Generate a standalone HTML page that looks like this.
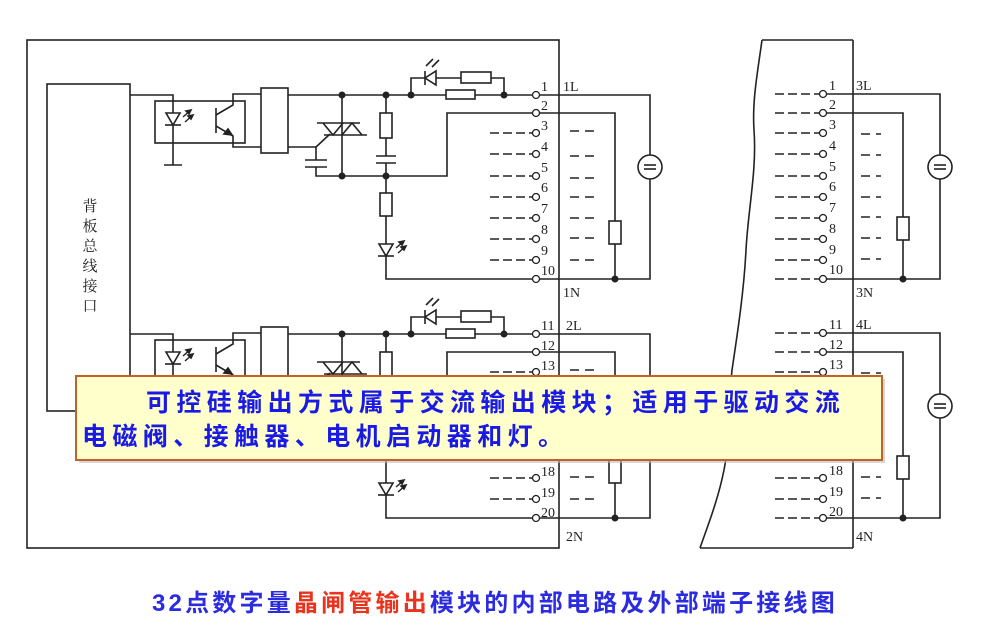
<!DOCTYPE html>
<html><head><meta charset="utf-8"><style>
html,body{margin:0;padding:0;background:#fff;}
svg{display:block;}
</style></head><body>
<svg width="1006" height="640" viewBox="0 0 1006 640" xmlns="http://www.w3.org/2000/svg">
<defs>
<g id="led">
  <polygon points="-7,-6 7,-6 0,6" fill="#fff" stroke="#222" stroke-width="1.6"/>
  <line x1="-8" y1="6" x2="8" y2="6" stroke="#222" stroke-width="1.6"/>
  <line x1="10" y1="-2" x2="18" y2="-9" stroke="#222" stroke-width="1.4"/>
  <polygon points="18,-9 13,-8 16,-5" fill="#222"/>
  <line x1="12" y1="3" x2="20" y2="-4" stroke="#222" stroke-width="1.4"/>
  <polygon points="20,-4 15,-3 18,0" fill="#222"/>
</g>
<g id="mod" fill="none" stroke="#222" stroke-width="1.6">
  <polyline points="130,95 173,95 173,165"/>
  <line x1="164" y1="165" x2="182" y2="165"/>
  <rect x="155" y="101" width="90" height="42"/>
  <use href="#led" x="173" y="119"/>
  <line x1="216" y1="108" x2="216" y2="133"/>
  <polyline points="216,115 233,105 233,94 261,94"/>
  <polyline points="216,126 233,136 233,147 261,147"/>
  <polygon points="232,135 224,134 228,129" fill="#222"/>
  <rect x="261" y="88" width="27" height="65"/>
  <line x1="288" y1="95" x2="532" y2="95"/>
  <line x1="288" y1="147" x2="316" y2="147"/>
  <line x1="316" y1="147" x2="330" y2="134"/>
  <line x1="316" y1="147" x2="316" y2="160"/>
  <line x1="305" y1="160" x2="327" y2="160"/>
  <line x1="305" y1="167" x2="327" y2="167"/>
  <polyline points="316,167 316,176 447,176 447,113 532,113"/>
  <line x1="342" y1="95" x2="342" y2="176"/>
  <line x1="317" y1="123" x2="360" y2="123"/>
  <line x1="324" y1="135" x2="367" y2="135"/>
  <polyline points="323,123 333,135 343,123"/>
  <polyline points="342,135 352,123 362,135"/>
  <line x1="386" y1="95" x2="386" y2="113"/>
  <rect x="380" y="113" width="12" height="25"/>
  <line x1="386" y1="138" x2="386" y2="156"/>
  <line x1="376" y1="156" x2="396" y2="156"/>
  <line x1="376" y1="163" x2="396" y2="163"/>
  <line x1="386" y1="163" x2="386" y2="193"/>
  <rect x="380" y="193" width="12" height="23"/>
  <line x1="386" y1="216" x2="386" y2="244"/>
  <use href="#led" x="386" y="250"/>
  <polyline points="386,256 386,279 532,279"/>
  <rect x="446" y="90" width="29" height="9" fill="#fff"/>
  <polyline points="411,95 411,78 425,78"/>
  <polyline points="436,78 461,78"/>
  <rect x="461" y="72" width="30" height="11"/>
  <polyline points="491,78 504,78 504,95"/>
  <polygon points="436,71 436,85 425,78" fill="#fff"/>
  <line x1="425" y1="71" x2="425" y2="85"/>
  <line x1="426" y1="66" x2="433" y2="59"/>
  <line x1="432" y1="67" x2="439" y2="60"/>
  <g stroke-dasharray="9,4" stroke-width="1.6">
    <line x1="490" y1="133" x2="532" y2="133"/>
    <line x1="490" y1="154" x2="532" y2="154"/>
    <line x1="490" y1="176" x2="532" y2="176"/>
    <line x1="490" y1="197" x2="532" y2="197"/>
    <line x1="490" y1="218" x2="532" y2="218"/>
    <line x1="490" y1="239" x2="532" y2="239"/>
    <line x1="490" y1="260" x2="532" y2="260"/>
  </g>
  <g stroke-dasharray="9,6" stroke-width="1.6">
    <line x1="570" y1="131" x2="597" y2="131"/>
    <line x1="570" y1="156" x2="597" y2="156"/>
    <line x1="570" y1="178" x2="597" y2="178"/>
    <line x1="570" y1="197" x2="597" y2="197"/>
    <line x1="570" y1="218" x2="597" y2="218"/>
    <line x1="570" y1="238" x2="597" y2="238"/>
    <line x1="570" y1="260" x2="597" y2="260"/>
  </g>
  <g fill="#fff" stroke-width="1.3">
    <circle cx="536" cy="95" r="3.5"/><circle cx="536" cy="113" r="3.5"/>
    <circle cx="536" cy="133" r="3.5"/><circle cx="536" cy="154" r="3.5"/>
    <circle cx="536" cy="176" r="3.5"/><circle cx="536" cy="197" r="3.5"/>
    <circle cx="536" cy="218" r="3.5"/><circle cx="536" cy="239" r="3.5"/>
    <circle cx="536" cy="260" r="3.5"/><circle cx="536" cy="279" r="3.5"/>
  </g>
  <polyline points="540,95 650,95 650,155"/>
  <polyline points="650,179 650,279 540,279"/>
  <circle cx="650" cy="167" r="12"/>
  <line x1="644" y1="165" x2="656" y2="165"/>
  <line x1="644" y1="169" x2="656" y2="169"/>
  <polyline points="540,113 615,113 615,221"/>
  <rect x="609" y="221" width="12" height="23"/>
  <line x1="615" y1="244" x2="615" y2="279"/>
  <g fill="#222" stroke="none">
    <circle cx="342" cy="95" r="3.5"/><circle cx="386" cy="95" r="3.5"/>
    <circle cx="411" cy="95" r="3.5"/><circle cx="504" cy="95" r="3.5"/>
    <circle cx="342" cy="176" r="3.5"/><circle cx="386" cy="176" r="3.5"/>
    <circle cx="615" cy="279" r="3.5"/>
  </g>
</g>
<g id="rmod" fill="none" stroke="#222" stroke-width="1.6">
  <g stroke-dasharray="9,4">
    <line x1="775" y1="94" x2="819" y2="94"/>
    <line x1="775" y1="113" x2="819" y2="113"/>
    <line x1="775" y1="133" x2="819" y2="133"/>
    <line x1="775" y1="154" x2="819" y2="154"/>
    <line x1="775" y1="176" x2="819" y2="176"/>
    <line x1="775" y1="197" x2="819" y2="197"/>
    <line x1="775" y1="218" x2="819" y2="218"/>
    <line x1="775" y1="239" x2="819" y2="239"/>
    <line x1="775" y1="260" x2="819" y2="260"/>
    <line x1="775" y1="279" x2="819" y2="279"/>
  </g>
  <g stroke-dasharray="9,6">
    <line x1="861" y1="134" x2="881" y2="134"/>
    <line x1="861" y1="155" x2="881" y2="155"/>
    <line x1="861" y1="176" x2="881" y2="176"/>
    <line x1="861" y1="197" x2="881" y2="197"/>
    <line x1="861" y1="217" x2="881" y2="217"/>
    <line x1="861" y1="238" x2="881" y2="238"/>
    <line x1="861" y1="259" x2="881" y2="259"/>
  </g>
  <g fill="#fff" stroke-width="1.3">
    <circle cx="823" cy="94" r="3.5"/><circle cx="823" cy="113" r="3.5"/>
    <circle cx="823" cy="133" r="3.5"/><circle cx="823" cy="154" r="3.5"/>
    <circle cx="823" cy="176" r="3.5"/><circle cx="823" cy="197" r="3.5"/>
    <circle cx="823" cy="218" r="3.5"/><circle cx="823" cy="239" r="3.5"/>
    <circle cx="823" cy="260" r="3.5"/><circle cx="823" cy="279" r="3.5"/>
  </g>
  <polyline points="827,94 940,94 940,155"/>
  <polyline points="940,179 940,279 827,279"/>
  <circle cx="940" cy="167" r="12"/>
  <line x1="934" y1="165" x2="946" y2="165"/>
  <line x1="934" y1="169" x2="946" y2="169"/>
  <polyline points="827,113 903,113 903,217"/>
  <rect x="897" y="217" width="12" height="23"/>
  <line x1="903" y1="240" x2="903" y2="279"/>
  <circle cx="903" cy="279" r="3.5" fill="#222" stroke="none"/>
</g>
</defs>

<rect x="27" y="40" width="532" height="508" fill="none" stroke="#222" stroke-width="1.6"/>
<rect x="47" y="84" width="83" height="327" fill="none" stroke="#222" stroke-width="1.6"/>
<g font-family="'Liberation Serif','Noto Serif CJK SC',serif" font-size="15" fill="#222" text-anchor="middle">
  <text x="90" y="211">背</text><text x="90" y="231">板</text><text x="90" y="251">总</text>
  <text x="90" y="271">线</text><text x="90" y="291">接</text><text x="90" y="311">口</text>
</g>

<use href="#mod"/>
<use href="#mod" y="239"/>

<path d="M762,40 C758,70 752,100 754,130 C757,170 748,210 746,250 C744,290 738,330 732,370 C728,410 730,440 724,470 C718,500 708,525 700,548" fill="none" stroke="#222" stroke-width="1.6"/>
<line x1="762" y1="40" x2="853" y2="40" stroke="#222" stroke-width="1.6"/>
<line x1="700" y1="548" x2="853" y2="548" stroke="#222" stroke-width="1.6"/>
<line x1="853" y1="40" x2="853" y2="548" stroke="#222" stroke-width="1.6"/>
<use href="#rmod"/>
<use href="#rmod" y="239"/>

<g font-family="'Liberation Serif',serif" font-size="14" fill="#222">
  <text x="541" y="91">1</text><text x="541" y="110">2</text><text x="541" y="130">3</text>
  <text x="541" y="151">4</text><text x="541" y="172">5</text><text x="541" y="192">6</text>
  <text x="541" y="213">7</text><text x="541" y="234">8</text><text x="541" y="255">9</text>
  <text x="541" y="275">10</text>
  <text x="563" y="91">1L</text><text x="563" y="297">1N</text>
  <text x="541" y="330">11</text><text x="541" y="350">12</text><text x="541" y="370">13</text>
  <text x="541" y="476">18</text><text x="541" y="497">19</text><text x="541" y="517">20</text>
  <text x="566" y="330">2L</text><text x="566" y="541">2N</text>

  <text x="829" y="90">1</text><text x="829" y="109">2</text><text x="829" y="129">3</text>
  <text x="829" y="150">4</text><text x="829" y="171">5</text><text x="829" y="191">6</text>
  <text x="829" y="212">7</text><text x="829" y="233">8</text><text x="829" y="254">9</text>
  <text x="829" y="274">10</text>
  <text x="856" y="90">3L</text><text x="856" y="297">3N</text>
  <text x="829" y="329">11</text><text x="829" y="349">12</text><text x="829" y="369">13</text>
  <text x="829" y="475">18</text><text x="829" y="496">19</text><text x="829" y="516">20</text>
  <text x="856" y="329">4L</text><text x="856" y="541">4N</text>
</g>

<rect x="79" y="379" width="806" height="84" fill="#bbbbbb" opacity="0.6"/>
<rect x="76" y="376" width="806" height="84" fill="#ffffcc" stroke="#c0602a" stroke-width="2"/>
<g font-family="'Liberation Sans','Noto Sans CJK SC',sans-serif" font-size="25" font-weight="bold" fill="#1a1ae6" letter-spacing="5.4">
  <text x="146" y="411">可控硅输出方式属于交流输出模块；适用于驱动交流</text>
  <text x="82" y="445">电磁阀、接触器、电机启动器和灯。</text>
</g>

<text x="152" y="611" font-family="'Liberation Sans','Noto Sans CJK SC',sans-serif" font-size="24" font-weight="bold" letter-spacing="3.2" fill="#2b2be0">32点数字量<tspan fill="#e8341c">晶闸管输出</tspan>模块的内部电路及外部端子接线图</text>
</svg>
</body></html>
